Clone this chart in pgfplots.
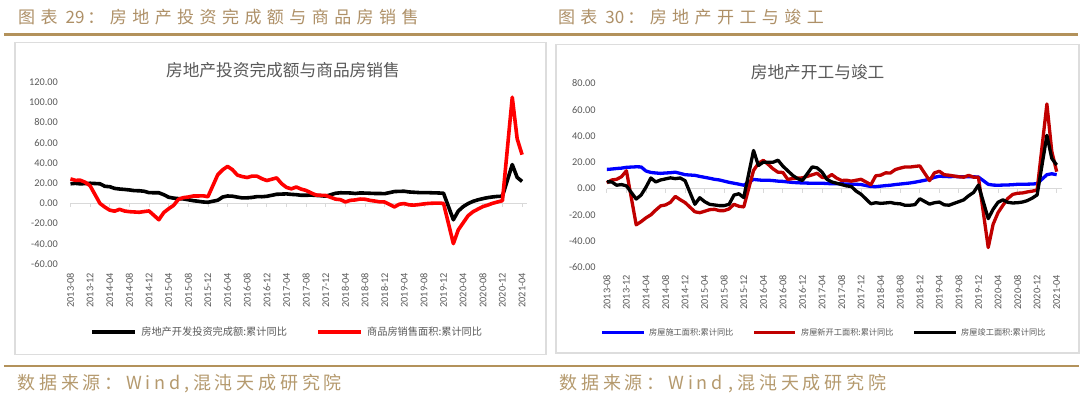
\documentclass[border=0pt]{standalone}
\usepackage{pgfplots}
\pgfplotsset{compat=1.18}
\usepackage{fontspec}
\setmainfont{Carlito}
\newfontfamily\cjk{Noto Sans CJK SC}
\newfontfamily\cjkhead[LetterSpace=32]{Noto Sans CJK SC}
\newfontfamily\cjkfoot[LetterSpace=21]{Noto Sans CJK SC}
\definecolor{gold}{HTML}{B3925B}
\definecolor{goldtxt}{HTML}{AE9067}
\definecolor{foottxt}{HTML}{B59A6E}
\definecolor{axgray}{HTML}{595959}
\definecolor{framec}{HTML}{DDDDDD}
\definecolor{zl}{HTML}{D9D9D9}
\definecolor{dred}{HTML}{C00000}
\begin{document}
\begin{tikzpicture}
\path[fill=white] (0pt,0pt) rectangle (1080pt,398pt);
% headers
\node[anchor=west, text=goldtxt, font=\fontsize{17}{20}\selectfont, inner sep=0pt] at (18pt,380.7pt) {{\cjkhead 图表}\hspace{8pt}{\cjk 29}\hspace{3pt}{\cjkhead ：房地产投资完成额与商品房销售}};
\node[anchor=west, text=goldtxt, font=\fontsize{17}{20}\selectfont, inner sep=0pt] at (558pt,380.7pt) {{\cjkhead 图表}\hspace{8pt}{\cjk 30}\hspace{3pt}{\cjkhead ：房地产开工与竣工}};
\draw[gold, line width=2.5pt] (4pt,363.5pt) -- (1078pt,363.5pt);
% footer
\draw[gold, line width=2.5pt] (4pt,32pt) -- (1079pt,32pt);
\node[anchor=west, text=foottxt, font=\fontsize{18}{20}\selectfont, inner sep=0pt] at (17.3pt,14pt) {{\cjkfoot 数据来源：}{\cjkfoot Wind,}{\cjkfoot 混沌天成研究院}};
\node[anchor=west, text=foottxt, font=\fontsize{18}{20}\selectfont, inner sep=0pt] at (559.5pt,14pt) {{\cjkfoot 数据来源：}{\cjkfoot Wind}\hspace{6pt}{\cjkfoot ,}{\cjkfoot 混沌天成研究院}};
% boxes
\draw[framec, line width=1.5pt] (15pt,43.5pt) rectangle (546pt,355.3pt);
\draw[framec, line width=1.5pt] (556pt,45pt) rectangle (1079pt,353.7pt);
% titles
\node[text=axgray, font=\fontsize{16.7}{19}\selectfont\cjk, inner sep=0pt] at (283pt,328pt) {房地产投资完成额与商品房销售};
\node[text=axgray, font=\fontsize{16.7}{19}\selectfont\cjk, inner sep=0pt] at (817.8pt,326.3pt) {房地产开工与竣工};

\begin{axis}[
  at={(70.5pt,134pt)}, anchor=south west,
  scale only axis, width=456.6pt, height=182pt,
  xmin=0, xmax=93, ymin=-60, ymax=120,
  axis line style={draw=none},
  major tick length=0pt,
  xtick={0,4,8,12,16,20,24,28,32,36,40,44,48,52,56,60,64,68,72,76,80,84,88,92},
  xticklabels={2013-08,2013-12,2014-04,2014-08,2014-12,2015-04,2015-08,2015-12,2016-04,2016-08,2016-12,2017-04,2017-08,2017-12,2018-04,2018-08,2018-12,2019-04,2019-08,2019-12,2020-04,2020-08,2020-12,2021-04},
  ytick={-60,-40,-20,0,20,40,60,80,100,120},
  yticklabels={-60.00,-40.00,-20.00,0.00,20.00,40.00,60.00,80.00,100.00,120.00},
  tick label style={font=\fontsize{10.3}{12}\selectfont, text=axgray, inner sep=0pt},
  xticklabel style={yshift=-9pt, rotate=90, anchor=east},
  yticklabel style={anchor=east, xshift=-12.5pt},
  clip=false,
  legend columns=-1,
  legend style={at={(axis description cs:0.0442,-0.3736)}, anchor=west, draw=none, fill=none, inner sep=0pt, outer sep=0pt, font=\fontsize{10.2}{12}\selectfont\cjk, text=axgray, nodes={inner sep=0pt}, /tikz/every odd column/.append style={column sep=4.8pt}, /tikz/every even column/.append style={column sep=29.5pt}},
  legend image code/.code={\draw[#1] (0pt,0pt) -- (42.3pt,0pt);},
]
\addplot[zl, line width=1pt, forget plot] coordinates {(0,0) (93,0)};
\pgfplotsinvokeforeach{0,4,8,12,16,20,24,28,32,36,40,44,48,52,56,60,64,68,72,76,80,84,88,92}{\draw[zl, line width=0.8pt] (axis cs:#1,0) -- ++(0pt,-4pt);}
\addplot[black, line width=3.6pt, line join=round] coordinates {
(0,19.3)(1,19.7)(2,19.2)(3,19.5)(4,19.8)
(6,19.3)(7,16.8)(8,16.4)(9,14.7)(10,14.1)(11,13.7)(12,13.2)(13,12.5)(14,12.4)(15,11.9)(16,10.5)
(18,10.4)(19,8.5)(20,6.0)(21,5.1)(22,4.6)(23,4.3)(24,3.5)(25,2.6)(26,2.0)(27,1.3)(28,1.0)
(30,3.0)(31,6.2)(32,7.2)(33,7.0)(34,6.1)(35,5.3)(36,5.4)(37,5.8)(38,6.6)(39,6.5)(40,6.9)
(42,8.9)(43,9.1)(44,9.3)(45,8.8)(46,8.5)(47,7.9)(48,7.9)(49,8.1)(50,7.8)(51,7.5)(52,7.0)
(54,9.9)(55,10.4)(56,10.3)(57,10.2)(58,9.7)(59,10.2)(60,10.1)(61,9.9)(62,9.7)(63,9.7)(64,9.5)
(66,11.6)(67,11.8)(68,11.9)(69,11.2)(70,10.9)(71,10.6)(72,10.5)(73,10.5)(74,10.3)(75,10.2)(76,9.9)
(78,-16.3)(79,-7.7)(80,-3.3)(81,-0.3)(82,1.9)(83,3.4)(84,4.6)(85,5.6)(86,6.3)(87,6.8)(88,7.0)
(90,38.3)(91,25.6)(92,21.6)};
\addlegendentry{房地产开发投资完成额:累计同比}
\addplot[red, line width=3.6pt, line join=round] coordinates {
(0,24.1)(1,22.7)(2,22.8)(3,20.8)(4,17.3)
(6,-0.1)(7,-3.8)(8,-6.8)(9,-7.8)(10,-6.0)(11,-7.6)(12,-8.3)(13,-8.6)(14,-8.9)(15,-8.2)(16,-7.6)
(18,-16.3)(19,-9.2)(20,-5.4)(21,-2.1)(22,3.9)(23,5.6)(24,6.2)(25,7.2)(26,7.2)(27,7.4)(28,6.5)
(30,28.2)(31,33.1)(32,36.5)(33,33.2)(34,27.9)(35,26.4)(36,25.5)(37,26.9)(38,26.8)(39,24.3)(40,22.5)
(42,25.1)(43,19.5)(44,15.7)(45,14.3)(46,16.1)(47,14.0)(48,12.7)(49,10.3)(50,8.2)(51,7.9)(52,7.7)
(54,4.1)(55,3.6)(56,1.3)(57,2.9)(58,3.3)(59,4.2)(60,4.0)(61,2.9)(62,2.2)(63,1.4)(64,1.3)
(66,-3.6)(67,-0.9)(68,-0.3)(69,-1.6)(70,-1.8)(71,-1.3)(72,-0.6)(73,-0.1)(74,0.1)(75,0.2)(76,-0.1)
(78,-39.9)(79,-26.3)(80,-19.3)(81,-12.3)(82,-8.4)(83,-5.8)(84,-3.3)(85,-1.8)(86,0.0)(87,1.3)(88,2.6)
(90,104.9)(91,63.8)(92,48.1)};
\addlegendentry{商品房销售面积:累计同比}
\end{axis}

\begin{axis}[
  at={(607pt,130.5pt)}, anchor=south west,
  scale only axis, width=454.8pt, height=184.2pt,
  xmin=0, xmax=93, ymin=-60, ymax=80,
  axis line style={draw=none},
  major tick length=0pt,
  xtick={0,4,8,12,16,20,24,28,32,36,40,44,48,52,56,60,64,68,72,76,80,84,88,92},
  xticklabels={2013-08,2013-12,2014-04,2014-08,2014-12,2015-04,2015-08,2015-12,2016-04,2016-08,2016-12,2017-04,2017-08,2017-12,2018-04,2018-08,2018-12,2019-04,2019-08,2019-12,2020-04,2020-08,2020-12,2021-04},
  ytick={-60,-40,-20,0,20,40,60,80},
  yticklabels={-60.00,-40.00,-20.00,0.00,20.00,40.00,60.00,80.00},
  tick label style={font=\fontsize{10.3}{12}\selectfont, text=axgray, inner sep=0pt},
  xticklabel style={yshift=-7.5pt, rotate=90, anchor=east},
  yticklabel style={anchor=east, xshift=-11pt},
  clip=false,
  legend columns=-1,
  legend style={at={(axis description cs:-0.0141,-0.3529)}, anchor=west, draw=none, fill=none, inner sep=0pt, outer sep=0pt, font=\fontsize{8.2}{10}\selectfont\cjk, text=axgray, nodes={inner sep=0pt}, /tikz/every odd column/.append style={column sep=4pt}, /tikz/every even column/.append style={column sep=19pt}},
  legend image code/.code={\draw[#1] (0pt,0pt) -- (41.4pt,0pt);},
]
\addplot[zl, line width=1pt, forget plot] coordinates {(0,0) (93,0)};
\pgfplotsinvokeforeach{0,4,8,12,16,20,24,28,32,36,40,44,48,52,56,60,64,68,72,76,80,84,88,92}{\draw[zl, line width=0.8pt] (axis cs:#1,0) -- ++(0pt,-4pt);}
\addplot[blue, line width=3.3pt, line join=round] coordinates {
(0,14.5)(1,14.8)(2,15.2)(3,15.5)(4,16.1)
(6,16.5)(7,16.4)(8,13.3)(9,12.2)(10,11.8)(11,11.5)(12,11.8)(13,12.0)(14,12.4)(15,11.5)(16,10.5)
(18,10.0)(19,9.2)(20,8.5)(21,7.8)(22,7.0)(23,6.5)(24,5.6)(25,4.7)(26,4.0)(27,3.3)(28,2.5)
(30,6.9)(31,6.5)(32,6.2)(33,6.3)(34,6.0)(35,5.6)(36,5.4)(37,5.0)(38,4.6)(39,4.4)(40,4.2)
(42,4.0)(43,4.0)(44,4.0)(45,3.8)(46,3.6)(47,3.7)(48,3.6)(49,3.4)(50,3.3)(51,3.2)(52,3.0)
(54,1.5)(55,1.4)(56,1.8)(57,2.2)(58,2.5)(59,3.0)(60,3.4)(61,3.8)(62,4.2)(63,4.8)(64,5.5)
(66,7.0)(67,8.5)(68,9.3)(69,9.2)(70,9.0)(71,9.1)(72,9.0)(73,8.9)(74,9.0)(75,8.9)(76,8.7)
(78,3.2)(79,2.6)(80,2.5)(81,2.6)(82,2.7)(83,2.9)(84,3.2)(85,3.2)(86,3.3)(87,3.4)(88,3.7)
(90,10.5)(91,11.2)(92,10.5)};
\addlegendentry{房屋施工面积:累计同比}
\addplot[dred, line width=3.3pt, line join=round] coordinates {
(0,4.3)(1,6.5)(2,7.0)(3,9.0)(4,13.5)
(6,-27.6)(7,-25.2)(8,-22.3)(9,-20.0)(10,-16.4)(11,-13.2)(12,-12.5)(13,-10.5)(14,-6.0)(15,-8.5)(16,-10.7)
(18,-17.7)(19,-18.4)(20,-17.3)(21,-16.1)(22,-15.8)(23,-16.8)(24,-16.8)(25,-15.5)(26,-12.0)(27,-13.5)(28,-14.0)
(30,13.7)(31,19.2)(32,21.4)(33,18.3)(34,14.9)(35,12.4)(36,12.2)(37,6.9)(38,7.6)(39,7.9)(40,8.1)
(42,10.4)(43,11.6)(44,8.5)(45,8.1)(46,10.6)(47,7.9)(48,6.1)(49,6.3)(50,5.6)(51,6.3)(52,7.0)
(54,2.9)(55,9.7)(56,10.1)(57,11.9)(58,11.8)(59,14.4)(60,15.5)(61,16.4)(62,16.3)(63,16.8)(64,17.2)
(66,6.0)(67,11.9)(68,13.1)(69,10.5)(70,10.1)(71,9.5)(72,8.9)(73,8.6)(74,10.0)(75,8.6)(76,8.5)
(78,-44.9)(79,-27.2)(80,-18.4)(81,-12.8)(82,-7.6)(83,-4.5)(84,-3.6)(85,-3.4)(86,-2.6)(87,-2.0)(88,-1.2)
(90,64.3)(91,28.2)(92,12.8)};
\addlegendentry{房屋新开工面积:累计同比}
\addplot[black, line width=3.3pt, line join=round] coordinates {
(0,5.1)(1,5.0)(2,2.5)(3,3.0)(4,2.0)
(6,-8.0)(7,-5.0)(8,1.0)(9,8.0)(10,5.0)(11,6.5)(12,7.3)(13,8.1)(14,7.5)(15,8.0)(16,5.9)
(18,-12.0)(19,-7.0)(20,-10.0)(21,-12.0)(22,-12.5)(23,-13.0)(24,-13.0)(25,-12.0)(26,-5.0)(27,-4.0)(28,-6.9)
(30,28.9)(31,17.5)(32,20.0)(33,20.0)(34,20.0)(35,21.5)(36,17.0)(37,13.5)(38,10.0)(39,7.5)(40,6.1)
(42,16.4)(43,15.7)(44,12.5)(45,7.0)(46,5.0)(47,4.0)(48,3.0)(49,2.0)(50,1.5)(51,-2.0)(52,-4.4)
(54,-11.6)(55,-10.8)(56,-11.3)(57,-11.0)(58,-10.6)(59,-11.4)(60,-11.6)(61,-12.8)(62,-12.7)(63,-12.3)(64,-7.8)
(66,-11.9)(67,-10.8)(68,-10.3)(69,-12.4)(70,-12.7)(71,-11.3)(72,-10.0)(73,-8.6)(74,-5.5)(75,-3.0)(76,2.6)
(78,-22.9)(79,-15.8)(80,-10.5)(81,-8.6)(82,-10.5)(83,-11.0)(84,-10.8)(85,-10.3)(86,-9.2)(87,-7.3)(88,-4.9)
(90,40.4)(91,22.9)(92,17.9)};
\addlegendentry{房屋竣工面积:累计同比}
\end{axis}
\end{tikzpicture}
\end{document}
